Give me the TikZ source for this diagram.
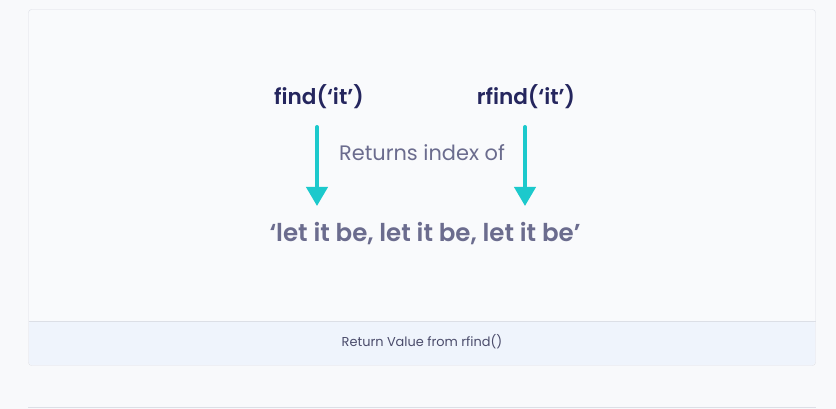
\documentclass[tikz,border=0pt]{standalone}
\usepackage{fontspec}
\setmainfont{Poppins}
\newfontfamily\semibold{Poppins SemiBold}
\usetikzlibrary{arrows.meta}
\definecolor{pagebg}{HTML}{F8F9FB}
\definecolor{cardbg}{HTML}{F9FAFC}
\definecolor{cardline}{HTML}{DCDFE6}
\definecolor{capbg}{HTML}{EFF4FC}
\definecolor{navy}{HTML}{25265E}
\definecolor{greytxt}{HTML}{6B6C8E}
\definecolor{captxt}{HTML}{4B4C6B}
\definecolor{teal}{HTML}{1CC9CC}
\tikzset{
  call/.style={font=\semibold\fontsize{21.6}{25}\selectfont, text=navy, inner sep=0pt},
  findarrow/.style={-{Triangle[length=19pt,width=21pt]}, line width=4pt, teal, line cap=round},
}
\begin{document}
\begin{tikzpicture}[x=1pt,y=-1pt]
% Background and frame
\fill[pagebg] (0,0) rectangle (836,409);
\useasboundingbox (0,0) rectangle (836,409);
\draw[cardline, fill=cardbg, rounded corners=3pt] (28.5,9.5) rectangle (815.5,365.5);
\fill[capbg, rounded corners=3pt] (29,321) rectangle (815,365);
\draw[cardline] (28.5,321) -- (815.5,321);
\draw[cardline] (28,407.5) -- (816,407.5);

% Method calls
\node[call] (find) at (319,97) {find(‘it’)};
\node[call] (rfind) at (526,97) {rfind(‘it’)};

% Middle label
\node[font=\fontsize{20.9}{24}\selectfont, text=greytxt, inner sep=0pt] (returns) at (422,153) {Returns index of};

% Target string
\node[font=\semibold\fontsize{24.5}{28}\selectfont, text=greytxt, inner sep=0pt] (target) at (425,234) {‘let it be, let it be, let it be’};

% Arrows
\coordinate (fa) at (317,127);
\coordinate (fb) at (317,206);
\coordinate (ra) at (525,127);
\coordinate (rb) at (525,206);
\draw[findarrow] (fa) -- (fb);
\draw[findarrow] (ra) -- (rb);

% Caption
\node[font=\fontsize{12.9}{15}\selectfont, text=captxt, inner sep=0pt] (caption) at (422,342) {Return Value from rfind()};
\end{tikzpicture}
\end{document}
